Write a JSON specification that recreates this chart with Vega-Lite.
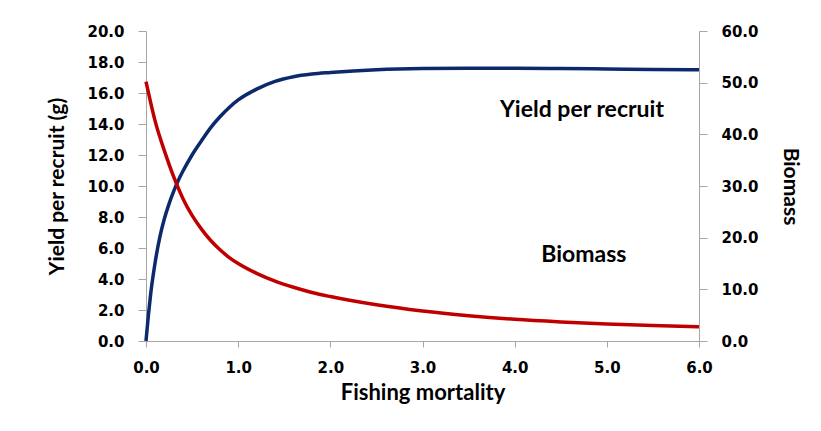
{
  "$schema": "https://vega.github.io/schema/vega-lite/v6.json",
  "autosize": {"type": "none"},
  "width": 553,
  "height": 310,
  "padding": {"left": 146, "top": 31, "right": 122, "bottom": 90},
  "background": "white",
  "config": {
    "view": {"stroke": null},
    "axis": {
      "domainColor": "#a6a6a6",
      "tickColor": "#a6a6a6",
      "domainWidth": 1,
      "tickWidth": 1,
      "grid": false,
      "labelFlush": false,
      "labelOverlap": false,
      "labelFont": "DejaVu Sans",
      "labelFontWeight": "bold",
      "labelFontSize": 15,
      "labelColor": "#000000",
      "titleFont": "Lato",
      "titleFontWeight": "bold",
      "titleFontSize": 20,
      "titleColor": "#000000"
    }
  },
  "datasets": {
    "yield": [
      {"F": 0, "Y": 0},
      {"F": 0.025, "Y": 1.6},
      {"F": 0.05, "Y": 3.0},
      {"F": 0.1, "Y": 5.1},
      {"F": 0.15, "Y": 6.7},
      {"F": 0.2, "Y": 7.9},
      {"F": 0.25, "Y": 8.85},
      {"F": 0.3, "Y": 9.65},
      {"F": 0.35, "Y": 10.35},
      {"F": 0.4, "Y": 10.95},
      {"F": 0.5, "Y": 12.0},
      {"F": 0.6, "Y": 12.9},
      {"F": 0.7, "Y": 13.75},
      {"F": 0.8, "Y": 14.45},
      {"F": 0.9, "Y": 15.05},
      {"F": 1.0, "Y": 15.55},
      {"F": 1.2, "Y": 16.25},
      {"F": 1.4, "Y": 16.75},
      {"F": 1.6, "Y": 17.05},
      {"F": 1.8, "Y": 17.22},
      {"F": 2.0, "Y": 17.32},
      {"F": 2.5, "Y": 17.5},
      {"F": 3.0, "Y": 17.58},
      {"F": 3.5, "Y": 17.6},
      {"F": 4.0, "Y": 17.6},
      {"F": 4.5, "Y": 17.58},
      {"F": 5.0, "Y": 17.55},
      {"F": 5.5, "Y": 17.52},
      {"F": 6.0, "Y": 17.5}
    ],
    "biomass": [
      {"F": 0, "B": 50.2},
      {"F": 0.05, "B": 46.2},
      {"F": 0.1, "B": 42.5},
      {"F": 0.2, "B": 36.8},
      {"F": 0.3, "B": 31.8},
      {"F": 0.4, "B": 27.6},
      {"F": 0.5, "B": 24.3},
      {"F": 0.6, "B": 21.7},
      {"F": 0.7, "B": 19.5},
      {"F": 0.8, "B": 17.7},
      {"F": 0.9, "B": 16.2},
      {"F": 1.0, "B": 15.0},
      {"F": 1.2, "B": 13.1},
      {"F": 1.4, "B": 11.6},
      {"F": 1.6, "B": 10.4},
      {"F": 1.8, "B": 9.4},
      {"F": 2.0, "B": 8.6},
      {"F": 2.5, "B": 7.0},
      {"F": 3.0, "B": 5.8},
      {"F": 3.5, "B": 4.9},
      {"F": 4.0, "B": 4.2},
      {"F": 4.5, "B": 3.7},
      {"F": 5.0, "B": 3.3},
      {"F": 5.5, "B": 3.0},
      {"F": 6.0, "B": 2.77}
    ],
    "labels": [
      {"F": 4.73, "Y": 14.9, "label": "Yield per recruit"},
      {"F": 4.75, "Y": 5.55, "label": "Biomass"}
    ]
  },
  "encoding": {
    "x": {
      "field": "F",
      "type": "quantitative",
      "scale": {"domain": [0, 6], "nice": false},
      "axis": {
        "title": "Fishing mortality",
        "values": [0, 1, 2, 3, 4, 5, 6],
        "format": ".1f",
        "tickSize": 6,
        "labelPadding": 13,
        "titlePadding": 7,
        "titleFontSize": 22
      }
    }
  },
  "layer": [
    {
      "encoding": {
        "y": {
          "field": "Y",
          "type": "quantitative",
          "scale": {"domain": [0, 20], "nice": false},
          "axis": {
            "orient": "left",
            "title": "Yield per recruit (g)",
            "values": [0, 2, 4, 6, 8, 10, 12, 14, 16, 18, 20],
            "labelOverlap": false,
            "format": ".1f",
            "tickSize": 8,
            "labelPadding": 14,
            "titlePadding": 19,
            "titleFontSize": 21
          }
        }
      },
      "layer": [
        {
          "data": {"name": "yield"},
          "mark": {"type": "line", "color": "#0c2a6b", "strokeWidth": 3.5, "interpolate": "monotone"}
        },
        {
          "data": {"name": "labels"},
          "mark": {"type": "text", "font": "Lato", "fontWeight": "bold", "fontSize": 23, "color": "#000000", "align": "center", "baseline": "middle"},
          "encoding": {
            "text": {"field": "label"}
          }
        }
      ]
    },
    {
      "data": {"name": "biomass"},
      "mark": {"type": "line", "color": "#c00000", "strokeWidth": 3.5, "interpolate": "monotone"},
      "encoding": {
        "y": {
          "field": "B",
          "type": "quantitative",
          "scale": {"domain": [0, 60], "nice": false},
          "axis": {
            "orient": "right",
            "title": "Biomass",
            "values": [0, 10, 20, 30, 40, 50, 60],
            "format": ".1f",
            "tickSize": 8,
            "labelPadding": 14,
            "titlePadding": 21,
            "titleFontSize": 21
          }
        }
      }
    }
  ],
  "resolve": {"scale": {"y": "independent"}}
}
